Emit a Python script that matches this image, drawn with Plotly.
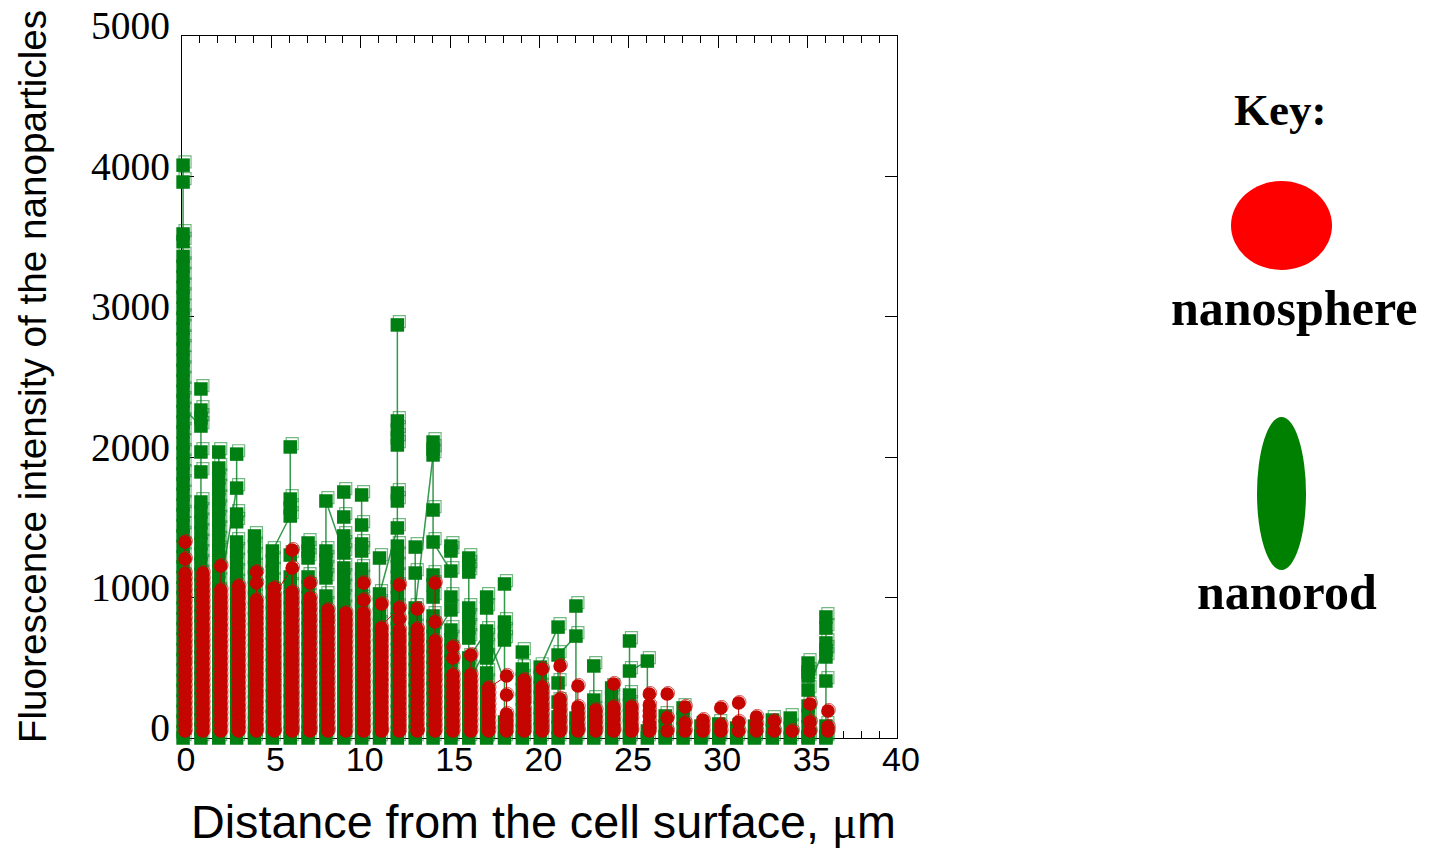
import plotly.graph_objects as go

distances = list(range(37))

g0 = [4080,3960,3590,3535,3430,3360,3285,3210,3140,3060,2990,2915,2840,2770,2690,2620,2545,2470,2400,2325,2250,2180,2100,2030,1955,1880,1810,1735,1660,1590,1510,1440,1365,1290,1220,1145,1070,1000,925,850,780,705,630,560,485,410,340,265,190,120,45,0]
g1 = [2486,2336,2279,2222,2037,1895,1681,1610,1535,1460,1385,1310,1240,1165,1090,1015,945,870,795,720,650,575,500,425,355,280,205,130,60,0]
g2 = [2037,1923,1850,1775,1700,1630,1555,1480,1405,1335,1260,1185,1110,1040,965,890,815,745,670,595,520,450,375,300,225,155,80,0]
g3 = [2022,1780,1595,1540,1396,1325,1250,1175,1100,1030,955,880,805,735,660,585,510,440,365,290,215,145,70,0]
g4 = [1439,1365,1290,1215,1145,1070,995,920,850,775,700,625,555,480,405,330,260,185,110,35,0]
g5 = [1332,1260,1185,1110,1040,965,890,815,745,670,595,520,450,375,300,225,155,80,0]
g6 = [2073,1702,1638,1581,1303,1147,1075,1000,925,855,780,705,630,560,485,410,335,265,190,115,40,0]
g7 = [1389,1332,1282,1147,1075,1000,930,855,780,705,635,560,485,410,340,265,190,115,45,0]
g8 = [1688,1332,1268,1197,1140,1011,940,865,790,715,645,570,495,420,350,275,200,125,55,0]
g9 = [1752,1574,1439,1375,1318,1211,1140,1065,990,915,845,770,695,620,550,475,400,325,255,180,105,30,0]
g10 = [1731,1517,1382,1332,1204,1130,1055,985,910,835,760,690,615,540,465,395,320,245,170,100,25,0]
g11 = [1282,1026,955,880,805,730,660,585,510,435,365,290,215,140,70,0]
g12 = [2942,2258,2194,2137,2087,1745,1688,1496,1367,1295,1220,1145,1075,1000,925,850,780,705,630,555,485,410,335,260,190,115,40,0]
g13 = [1360,1175,926,855,780,705,635,560,485,410,340,265,190,115,45,0]
g14 = [2108,2058,2016,1624,1396,1161,1090,1004,869,795,720,650,575,500,425,355,280,205,130,60,0]
g15 = [1367,1332,1189,1004,912,769,700,625,550,480,405,330,255,185,110,35,0]
g16 = [1282,1232,1182,926,855,783,712,570,495,425,350,275,200,130,55,0]
g17 = [1004,926,762,712,641,570,463,390,315,240,170,95,20,0]
g18 = [1097,826,755,698,114,40,0]
g19 = [612,491,420,345,275,200,125,50,0]
g20 = [505,435,360,290,215,140,65,0]
g21 = [790,591,392,256,150,75,0]
g22 = [940,726,142,70,0]
g23 = [513,270,195,125,50,0]
g24 = [356,285,210,135,65,0]
g25 = [691,477,306,235,160,90,15,0]
g26 = [548,50,0]
g27 = [157,85,10,0]
g28 = [214,140,65,0]
g29 = [85,15,0]
g30 = [100,25,0]
g31 = [71,0]
g32 = [85,10,0]
g33 = [128,55,0]
g34 = [142,70,0]
g35 = [534,470,441,342,228,155,80,10,0]
g36 = [862,783,677,627,577,406,85,10,0]

r0 = [1396,1275,1172,1133,1092,1050,1012,971,930,892,851,810,772,731,690,652,611,570,532,491,450,412,371,330,292,251,210,172,131,90,50]
r1 = [1175,1134,1095,1052,1014,973,932,894,853,812,774,733,692,654,613,572,534,493,452,414,373,332,294,253,212,174,133,92,50]
r2 = [1225,1054,1012,973,932,894,853,812,774,733,692,654,613,572,534,493,452,414,373,332,294,253,212,174,133,92,50]
r3 = [1083,1042,1003,962,924,883,842,804,763,722,684,643,602,564,523,482,444,403,362,324,283,242,204,163,122,84,50]
r4 = [1182,1104,983,942,904,863,822,784,743,702,664,623,582,544,503,462,424,383,342,304,263,222,184,143,102,64,50]
r5 = [1068,1018,977,938,897,859,818,777,739,698,657,619,578,537,499,458,417,379,338,297,259,218,177,139,98,57,50]
r6 = [1339,1211,1040,999,960,919,881,840,799,761,720,679,641,600,559,521,480,439,401,360,319,281,240,199,161,120,79,50]
r7 = [1104,997,956,917,876,838,797,756,718,677,636,598,557,516,478,437,396,358,317,276,238,197,156,118,77,50]
r8 = [912,871,832,791,753,712,671,633,592,551,513,472,431,393,352,311,273,232,191,153,112,71,50]
r9 = [890,849,810,769,731,690,649,611,570,529,491,450,409,371,330,289,251,210,169,131,90,50]
r10 = [1104,983,890,849,810,769,731,690,649,611,570,529,491,450,409,371,330,289,251,210,169,131,90,50]
r11 = [954,783,742,703,662,624,583,542,504,463,422,384,343,302,264,223,182,144,103,62,50]
r12 = [1090,926,848,769,728,689,648,610,569,528,490,449,408,370,329,288,250,209,168,130,89,50]
r13 = [919,776,735,696,655,617,576,535,497,456,415,377,336,295,257,216,175,137,96,55,50]
r14 = [1104,826,691,650,611,570,532,491,450,412,371,330,292,251,210,172,131,90,50]
r15 = [648,570,449,408,369,328,290,249,208,170,129,88,50]
r16 = [591,449,408,369,328,290,249,208,170,129,88,50]
r17 = [356,315,276,235,197,156,115,77,50]
r18 = [442,306,171,130,91,50]
r19 = [413,372,333,292,254,205,164,125,84,50]
r20 = [491,363,322,283,242,204,163,122,84,50]
r21 = [513,278,237,198,157,119,78,50]
r22 = [370,221,180,141,100,62,50]
r23 = [199,158,119,78,50]
r24 = [385,221,180,141,100,62,50]
r25 = [221,180,141,100,62,50]
r26 = [313,235,194,155,114,76,50]
r27 = [313,142,50]
r28 = [221,107,50]
r29 = [128,90,50]
r30 = [214,93,50]
r31 = [249,114,50]
r32 = [150,100,50]
r33 = [121,50]
r34 = [50]
r35 = [242,114,50]
r36 = [192,78,50]

green_columns = [g0,g1,g2,g3,g4,g5,g6,g7,g8,g9,g10,g11,g12,g13,g14,g15,g16,g17,g18,g19,g20,g21,g22,g23,g24,g25,g26,g27,g28,g29,g30,g31,g32,g33,g34,g35,g36]
red_columns = [r0,r1,r2,r3,r4,r5,r6,r7,r8,r9,r10,r11,r12,r13,r14,r15,r16,r17,r18,r19,r20,r21,r22,r23,r24,r25,r26,r27,r28,r29,r30,r31,r32,r33,r34,r35,r36]

# thin connecting segments between neighbouring distances: (d1, v1, d2, v2)
green_links = [(0,2350,1,2222),(2,1000,3,1780),(5,1332,6,1581),(8,1688,9,1318),(11,1026,12,1496),
               (13,926,14,2016),(14,1396,15,1189),(14,700,15,912),(16,570,17,762),(17,762,18,400),
               (20,505,21,790),(21,591,22,726),(25,477,26,548),(35,342,36,677),(17,641,16,400),(18,698,17,463)]
red_links = [(5,1018,6,1211),(17,356,18,442),(11,800,12,926)]

GREEN = "#007F12"
RED = "#C40500"
HOLLOW_GREEN = "rgba(0,128,30,0.55)"
HOLLOW_RED = "rgba(200,20,20,0.7)"
SPREAD = 0.999
G_SHIFT, R_SHIFT = 0.06, 0.17

def flat(columns, shift):
    xs, ys = [], []
    for d, col in zip(distances, columns):
        for v in col:
            xs.append(d * SPREAD + shift)
            ys.append(v)
    return xs, ys

def lined(columns, links, shift):
    xs, ys = [], []
    for d, col in zip(distances, columns):
        for v in col:
            xs.append(d * SPREAD + shift)
            ys.append(v)
        xs.append(None); ys.append(None)
    for d1, v1, d2, v2 in links:
        xs += [d1 * SPREAD + shift, d2 * SPREAD + shift, None]
        ys += [v1, v2, None]
    return xs, ys

W, H = 1431, 849
L, R, T, B = 182, 902, 24, 738
pw, ph = R - L, B - T
def px(x): return (x - L) / pw
def py(y): return (B - y) / ph

gx, gy = flat(green_columns, G_SHIFT)
rx, ry = flat(red_columns, R_SHIFT)
glx, gly = lined(green_columns, green_links, G_SHIFT)
rlx, rly = lined(red_columns, red_links, R_SHIFT)

fig = go.Figure()
fig.add_trace(go.Scatter(x=glx, y=gly, mode="lines", line=dict(color="rgba(0,128,30,0.8)", width=1.5), cliponaxis=False, hoverinfo="skip", showlegend=False))
fig.add_trace(go.Scatter(x=[v + 0.11 for v in gx], y=[v + 24 for v in gy], mode="markers",
                         marker=dict(symbol="square-open", size=12, color=HOLLOW_GREEN, line=dict(width=1.2, color=HOLLOW_GREEN)), cliponaxis=False, showlegend=False, hoverinfo="skip"))
fig.add_trace(go.Scatter(x=gx, y=gy, mode="markers", name="nanorod",
                         marker=dict(symbol="square", size=13.5, color=GREEN, line=dict(width=0)), cliponaxis=False, showlegend=False))
fig.add_trace(go.Scatter(x=rlx, y=rly, mode="lines", line=dict(color=RED, width=1), cliponaxis=False, hoverinfo="skip", showlegend=False))
fig.add_trace(go.Scatter(x=[v + 0.05 for v in rx], y=[v + 8 for v in ry], mode="markers",
                         marker=dict(symbol="circle-open", size=13, color=HOLLOW_RED, line=dict(width=1, color=HOLLOW_RED)), cliponaxis=False, showlegend=False, hoverinfo="skip"))
fig.add_trace(go.Scatter(x=rx, y=ry, mode="markers", name="nanosphere",
                         marker=dict(symbol="circle", size=13.5, color=RED, line=dict(width=0)), cliponaxis=False, showlegend=False))
# empty helper trace that carries the label-only axes
fig.add_trace(go.Scatter(x=[0, 40], y=[0, 5000], xaxis="x2", yaxis="y2", mode="markers", marker=dict(opacity=0, size=1), showlegend=False, hoverinfo="skip"))

fig.update_layout(
    width=W, height=H, autosize=False,
    margin=dict(l=L, r=W - R, t=T, b=H - B, pad=0),
    paper_bgcolor="white", plot_bgcolor="rgba(0,0,0,0)", showlegend=False,
    xaxis=dict(range=[0, 40], domain=[0, 715 / pw], anchor="y", showline=True, linecolor="black", linewidth=1, mirror="ticks", automargin=False,
               tickvals=list(range(0, 41, 5)), ticklen=12, ticks="inside", tickcolor="black", tickwidth=1, showticklabels=False,
               showgrid=False, zeroline=False, layer="below traces",
               minor=dict(dtick=1, ticks="inside", ticklen=7, tickcolor="black", tickwidth=1, showgrid=False)),
    yaxis=dict(range=[0, 5000], domain=[0, 702 / ph], anchor="x", showline=True, linecolor="black", linewidth=1, mirror="ticks", automargin=False,
               tickvals=list(range(0, 5001, 1000)), ticks="inside", ticklen=12, tickcolor="black", tickwidth=1, showticklabels=False,
               showgrid=False, zeroline=False, layer="below traces"),
    xaxis2=dict(range=[0, 40], domain=[4 / pw, 719 / pw], anchor="y2", side="bottom", showline=False, showgrid=False, zeroline=False, automargin=False,
                tickvals=list(range(0, 41, 5)), ticks="", ticklabelstandoff=8,
                tickfont=dict(family="Liberation Sans", size=34, color="black")),
    yaxis2=dict(range=[0, 5000], domain=[10.5 / ph, 712.5 / ph], anchor="x2", side="left", showline=False, showgrid=False, zeroline=False, automargin=False,
                tickvals=list(range(0, 5001, 1000)), ticks="", ticklabelstandoff=15,
                tickfont=dict(family="Liberation Serif", size=39.5, color="black"),
                title=dict(text="Fluorescence intensity of the nanoparticles", standoff=32,
                           font=dict(family="Liberation Sans", size=38.7, color="black"))),
    shapes=[
        dict(type="circle", xref="paper", yref="paper", x0=px(1231), x1=px(1332), y0=py(270), y1=py(181), fillcolor="#FF0000", line=dict(width=0), layer="above"),
        dict(type="circle", xref="paper", yref="paper", x0=px(1257), x1=px(1306), y0=py(570), y1=py(417), fillcolor="#008000", line=dict(width=0), layer="above"),
    ],
    annotations=[
        dict(text='Distance from the cell surface, <span style="font-family:Liberation Serif">μ</span>m', xref="paper", yref="paper", x=px(543.5), y=py(821.5),
             xanchor="center", yanchor="middle", showarrow=False, font=dict(family="Liberation Sans", size=46.7, color="black")),
        dict(text="<b>Key:</b>", xref="paper", yref="paper", x=px(1280), y=py(110), xanchor="center", yanchor="middle", showarrow=False,
             font=dict(family="Liberation Serif", size=45, color="black")),
        dict(text="<b>nanosphere</b>", xref="paper", yref="paper", x=px(1293.5), y=py(308), xanchor="center", yanchor="middle", showarrow=False,
             font=dict(family="Liberation Serif", size=50, color="black")),
        dict(text="<b>nanorod</b>", xref="paper", yref="paper", x=px(1286.5), y=py(592), xanchor="center", yanchor="middle", showarrow=False,
             font=dict(family="Liberation Serif", size=50, color="black")),
    ],
)
fig.write_html("out.html", config=dict(displayModeBar=False), post_script="document.body.style.margin='0';")
